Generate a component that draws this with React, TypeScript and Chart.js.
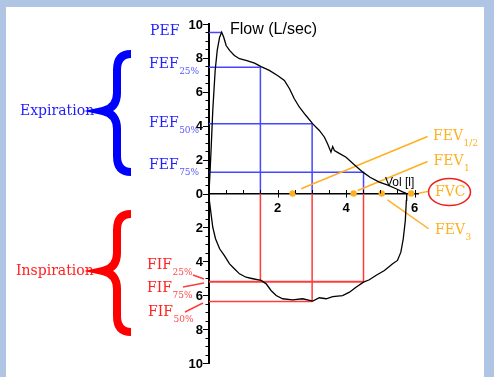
import React, { useEffect, useRef } from "react";
import { Chart, registerables } from "chart.js";

Chart.register(...registerables);

// Expiration limb (volume in L, flow in L/s)
const expVolume = [0, 0.06, 0.11, 0.18, 0.24, 0.31, 0.37, 0.43, 0.5, 0.6, 0.74, 0.89, 1.08, 1.33, 1.52, 1.76, 2.0, 2.2, 2.35, 2.49, 2.64, 2.83, 3.03, 3.22, 3.37, 3.46, 3.56, 3.61, 3.66, 3.79, 4.0, 4.2, 4.49, 4.7, 4.97, 5.2, 5.46, 5.65, 5.77];
const expFlow = [0, 2.54, 4.9, 7.26, 8.44, 9.22, 9.52, 9.22, 8.73, 8.44, 8.14, 7.95, 7.85, 7.69, 7.49, 7.26, 6.96, 6.67, 6.18, 5.59, 5.09, 4.6, 4.11, 3.72, 3.32, 2.93, 2.44, 2.77, 2.54, 2.38, 2.14, 1.77, 1.26, 0.96, 0.67, 0.51, 0.28, 0.1, 0];

// Inspiration limb (flow drawn downward)
const inspVolume = [0, 0.01, 0.06, 0.11, 0.19, 0.31, 0.45, 0.6, 0.74, 0.89, 1.08, 1.28, 1.52, 1.67, 1.81, 1.96, 2.15, 2.44, 2.73, 3.03, 3.22, 3.42, 3.61, 3.9, 4.1, 4.29, 4.51, 4.68, 4.87, 5.12, 5.36, 5.5, 5.6, 5.67, 5.73, 5.76, 5.77];
const inspFlow = [0, -0.41, -1.2, -1.99, -2.67, -3.26, -3.66, -4.15, -4.44, -4.74, -4.94, -5.03, -5.13, -5.33, -5.72, -6.02, -6.21, -6.27, -6.21, -6.35, -6.15, -6.21, -6.08, -6.02, -5.82, -5.53, -5.23, -5.09, -4.84, -4.54, -4.15, -3.95, -3.46, -2.67, -1.59, -0.41, 0];

// Peak flow and forced flows at 25/50/75 % of FVC
const pefVolume = 0.38;
const pefFlow = 9.5;
const fefVolumes = [1.5, 3.01, 4.51];
const fefFlows = [7.45, 4.12, 1.25];
const fifFlows = [-5.2, -6.37, -5.2];

// Timed volumes: FEV1/2, FEV1, FEV3, FVC
const fevNames = ["FEV½", "FEV1", "FEV3", "FVC"];
const fevVolumes = [2.44, 4.22, 5.04, 5.9];

// Callout line ends for the timed volume labels
const calloutStartX = [2.69, 4.34, 5.21, 6.12];
const calloutStartY = [0.28, 0.18, -0.37, 0.02];
const calloutEndX = [6.38, 6.38, 6.41, 6.43];
const calloutEndY = [3.36, 1.89, -2.08, 0.14];

const xTicks = [2, 4, 6];
const yTicks = [-10, -8, -6, -4, -2, 0, 2, 4, 6, 8, 10];

const BLUE = "#1e1eff";
const BLUE_SUB = "#5a5aff";
const BLUE_LINE = "#4646ff";
const RED = "#ff2020";
const RED_SUB = "#ff4a4a";
const RED_LINE = "#ff3c3c";
const ORANGE = "#ffb020";
const SERIF = '"DejaVu Serif", serif';
const SANS = '"Liberation Sans", Arial, sans-serif';

function drawLabel(ctx: CanvasRenderingContext2D, text: string, sub: string, x: number, y: number, color: string, subColor: string, size = 14) {
  ctx.font = `${size}px ${SERIF}`;
  ctx.fillStyle = color;
  ctx.textAlign = "left";
  ctx.textBaseline = "middle";
  ctx.fillText(text, x, y);
  if (sub) {
    const w = ctx.measureText(text).width;
    ctx.font = `9px ${SERIF}`;
    ctx.fillStyle = subColor;
    ctx.fillText(sub, x + w + 0.5, y + 7.5);
  }
}

function drawBrace(ctx: CanvasRenderingContext2D, x0: number, x1: number, yTop: number, yMid: number, yBot: number, color: string) {
  const xv = 117;
  ctx.save();
  ctx.strokeStyle = color;
  ctx.lineWidth = 8;
  ctx.lineJoin = "miter";
  ctx.lineCap = "butt";
  ctx.beginPath();
  ctx.moveTo(x1, yTop + 4);
  ctx.quadraticCurveTo(xv, yTop + 4, xv, yTop + 20);
  ctx.lineTo(xv, yMid - 18);
  ctx.quadraticCurveTo(xv, yMid - 3, x0 + 3, yMid);
  ctx.quadraticCurveTo(xv, yMid + 3, xv, yMid + 18);
  ctx.lineTo(xv, yBot - 20);
  ctx.quadraticCurveTo(xv, yBot - 4, x1, yBot - 4);
  ctx.stroke();
  ctx.restore();
}

const decoPlugin = {
  id: "deco",
  beforeDraw(chart: any) {
    const { ctx, width, height } = chart;
    ctx.save();
    ctx.fillStyle = "#b0c4e4";
    ctx.fillRect(0, 0, width, height);
    ctx.fillStyle = "#ffffff";
    ctx.fillRect(6, 7, 478, height - 7);
    ctx.restore();
  },
  afterDraw(chart: any) {
    const { ctx } = chart;
    const xs = chart.scales.x;
    const ys = chart.scales.y;
    const X = (v: number) => xs.getPixelForValue(v);
    const Y = (v: number) => ys.getPixelForValue(v);
    ctx.save();
    // minor / major tick marks
    ctx.strokeStyle = "#000";
    ctx.lineWidth = 1;
    const ax = X(0);
    for (let i = -20; i <= 20; i++) {
      const v = i / 2;
      const major = i % 4 === 0;
      const py = Math.round(Y(v)) + 0.5;
      ctx.beginPath();
      ctx.moveTo(ax, py);
      ctx.lineTo(ax - (major ? 6 : 3.5), py);
      ctx.stroke();
    }
    const ay = Y(0);
    for (let i = 1; i <= 12; i++) {
      const px = Math.round(X(i / 2)) + 0.5;
      ctx.beginPath();
      ctx.moveTo(px, ay);
      ctx.lineTo(px, ay - 3.5);
      ctx.stroke();
      if (i % 4 === 0) {
        ctx.beginPath();
        ctx.moveTo(px, ay);
        ctx.lineTo(px, ay + 4);
        ctx.stroke();
      }
    }
    // y tick labels (absolute flow values)
    ctx.fillStyle = "#000";
    ctx.font = `bold 13px ${SANS}`;
    ctx.textAlign = "right";
    ctx.textBaseline = "middle";
    for (const v of yTicks) {
      ctx.fillText(String(Math.abs(v)), ax - 6, Y(v) + 1);
    }

    // axis titles
    ctx.fillStyle = "#000";
    ctx.textAlign = "left";
    ctx.textBaseline = "middle";
    ctx.font = `16px ${SANS}`;
    ctx.fillText("Flow (L/sec)", 230, 30);
    ctx.font = `12px ${SANS}`;
    ctx.fillText("Vol [l]", 385, 183);

    // expiration labels
    ctx.font = `14px ${SERIF}`;
    ctx.fillStyle = BLUE;
    ctx.fillText("Expiration", 20, 111);
    drawBrace(ctx, 100, 131, 50, 111, 176, "#0000ff");
    drawLabel(ctx, "PEF", "", 150, 31, BLUE, BLUE_SUB);
    drawLabel(ctx, "FEF", "25%", 149, 64, BLUE, BLUE_SUB);
    drawLabel(ctx, "FEF", "50%", 149, 123, BLUE, BLUE_SUB);
    drawLabel(ctx, "FEF", "75%", 149, 165, BLUE, BLUE_SUB);

    // inspiration labels
    ctx.font = `14px ${SERIF}`;
    ctx.fillStyle = RED;
    ctx.textAlign = "left";
    ctx.textBaseline = "middle";
    ctx.fillText("Inspiration", 16, 271);
    drawBrace(ctx, 100, 131, 210, 271, 336, "#ff0000");
    drawLabel(ctx, "FIF", "25%", 147, 265, RED, RED_SUB);
    drawLabel(ctx, "FIF", "75%", 147, 288, RED, RED_SUB);
    drawLabel(ctx, "FIF", "50%", 148, 312, RED, RED_SUB);
    ctx.strokeStyle = RED_LINE;
    ctx.lineWidth = 1.5;
    const pointers = [[193, 275, 204, 279], [183, 287, 204, 283], [185, 312, 203, 303]];
    for (const p of pointers) {
      ctx.beginPath();
      ctx.moveTo(p[0], p[1]);
      ctx.lineTo(p[2], p[3]);
      ctx.stroke();
    }

    // timed volume labels
    drawLabel(ctx, "FEV", "1/2", 433, 136, ORANGE, ORANGE);
    drawLabel(ctx, "FEV", "1", 433.5, 161, ORANGE, ORANGE);
    drawLabel(ctx, "FEV", "3", 435, 230, ORANGE, ORANGE);
    drawLabel(ctx, "FVC", "", 435, 192, ORANGE, ORANGE);
    ctx.strokeStyle = "#ee2020";
    ctx.lineWidth = 1.5;
    ctx.beginPath();
    ctx.ellipse(449.5, 192, 21, 13.5, 0, 0, Math.PI * 2);
    ctx.stroke();
    ctx.restore();
  },
};

function pts(xs: number[], ys: number[]) {
  return xs.map((x, i) => ({ x, y: ys[i] }));
}

function line(data: { x: number; y: number }[], color: string, width: number, extra: any = {}) {
  return {
    data,
    showLine: true,
    borderColor: color,
    backgroundColor: color,
    borderWidth: width,
    pointRadius: 0,
    tension: 0,
    ...extra,
  };
}

export default function App() {
  const ref = useRef<HTMLCanvasElement>(null);

  useEffect(() => {
    if (!ref.current) return;
    const datasets: any[] = [];
    datasets.push({
      data: pts(fevVolumes, fevVolumes.map(() => 0)),
      label: fevNames.join(","),
      showLine: false,
      pointRadius: 3.2,
      pointBackgroundColor: ORANGE,
      pointBorderWidth: 0,
      clip: false,
    });
    datasets.push(line(pts(expVolume, expFlow), "#000", 1.3));
    datasets.push(line(pts(inspVolume, inspFlow), "#000", 1.3));
    for (let i = 0; i < calloutStartX.length; i++) {
      datasets.push(line([{ x: calloutStartX[i], y: calloutStartY[i] }, { x: calloutEndX[i], y: calloutEndY[i] }], ORANGE, 1.5, { clip: false }));
    }
    // PEF
    datasets.push(line([{ x: 0, y: pefFlow }, { x: pefVolume, y: pefFlow }], BLUE_LINE, 1.5));
    for (let i = 0; i < fefVolumes.length; i++) {
      datasets.push(line([{ x: 0, y: fefFlows[i] }, { x: fefVolumes[i], y: fefFlows[i] }, { x: fefVolumes[i], y: 0 }], BLUE_LINE, 1.5));
      datasets.push(line([{ x: fefVolumes[i], y: 0 }, { x: fefVolumes[i], y: fifFlows[i] }], RED_LINE, 1.5));
    }
    datasets.push(line([{ x: 0, y: fifFlows[0] }, { x: fefVolumes[2], y: fifFlows[0] }], RED_LINE, 2));
    datasets.push(line([{ x: 0, y: fifFlows[1] }, { x: fefVolumes[1], y: fifFlows[1] }], RED_LINE, 1.5));

    const chart = new Chart(ref.current, {
      type: "scatter",
      data: { datasets },
      options: {
        animation: false,
        responsive: false,
        events: [],
        layout: { padding: { left: 209, right: 76, top: 24, bottom: 14 } },
        plugins: { legend: { display: false }, tooltip: { enabled: false } },
        scales: {
          x: {
            type: "linear",
            min: 0,
            max: 6.1,
            position: { y: 0 } as any,
            afterBuildTicks: (s: any) => {
              s.ticks = xTicks.map((v) => ({ value: v }));
            },
            ticks: {
              color: "#000",
              padding: 7,
              font: { family: SANS, size: 13, weight: "bold" },
              callback: (v: any) => String(v),
            },
            grid: { display: true, drawOnChartArea: false, drawTicks: false },
            border: { display: true, color: "#000", width: 1.5 },
          },
          y: {
            type: "linear",
            min: -10,
            max: 10,
            position: { x: 0 } as any,
            afterBuildTicks: (s: any) => {
              s.ticks = yTicks.map((v) => ({ value: v }));
            },
            ticks: { display: false },
            grid: { display: true, drawOnChartArea: false, drawTicks: false },
            border: { display: true, color: "#000", width: 2 },
          },
        },
      },
      plugins: [decoPlugin],
    });
    return () => chart.destroy();
  }, []);

  return (
    <div style={{ position: "absolute", left: 0, top: 0, width: 494, height: 377 }}>
      <canvas ref={ref} width={494} height={377} style={{ display: "block" }} />
    </div>
  );
}
